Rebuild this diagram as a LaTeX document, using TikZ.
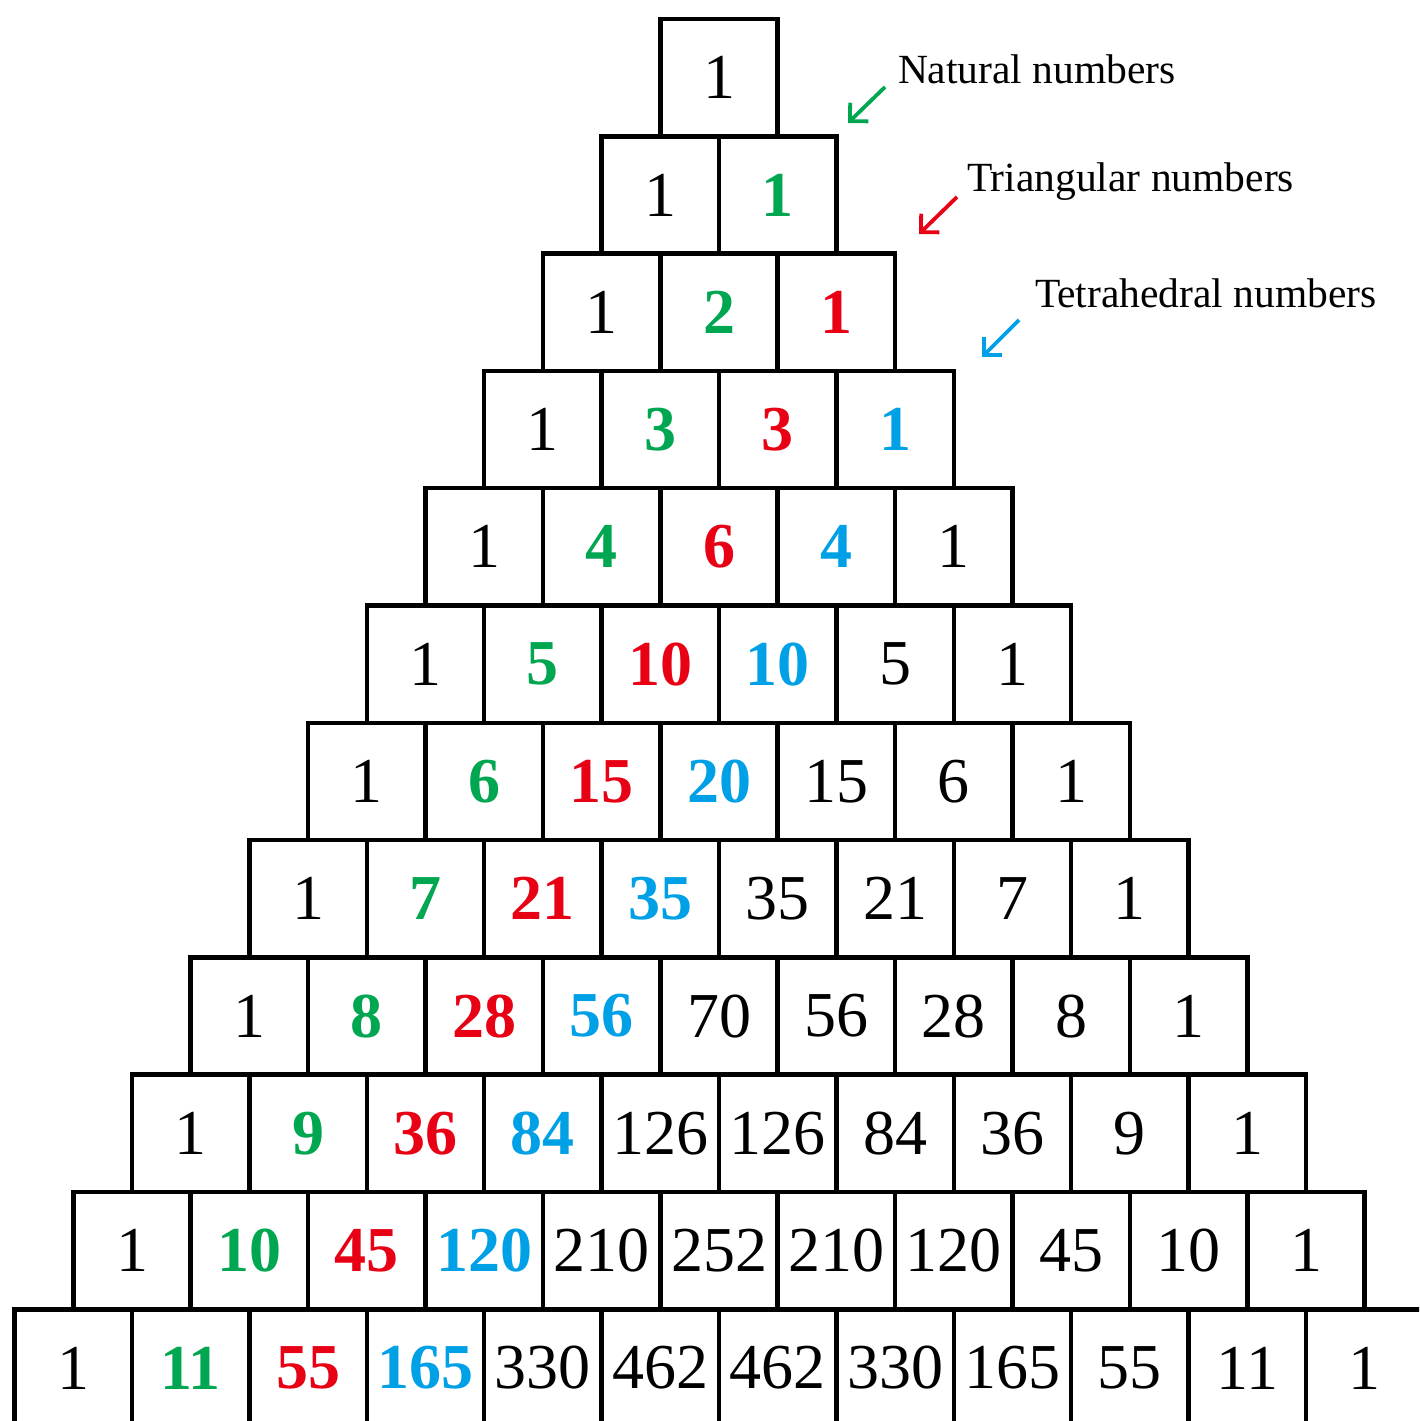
\documentclass[tikz,border=0pt]{standalone}
\usepackage{fontspec}
\setmainfont{Liberation Serif}
\usetikzlibrary{arrows.meta}
\definecolor{natgreen}{RGB}{0,166,80}
\definecolor{trired}{RGB}{232,0,20}
\definecolor{tetblue}{RGB}{0,160,230}
\newcommand\pascalfmt[1]{\ifcase#1\relax\or\bfseries\color{natgreen}\or\bfseries\color{trired}\or\bfseries\color{tetblue}\fi}
\tikzset{
  cellbox/.style={draw=black, line width=4.5pt, rectangle, minimum width=117.4pt, minimum height=117.3pt,
    inner sep=0pt, outer sep=0pt, font=\fontsize{64}{64}\selectfont},
  lbltext/.style={inner sep=0pt, outer sep=0pt, anchor=base west, font=\fontsize{41.5}{41.5}\selectfont},
  pointer/.style={line width=3.8pt, -{Straight Barb[length=13pt,width=26pt,line width=3.8pt]}}
}
\begin{document}
\begin{tikzpicture}[x=1pt,y=-1pt]
\useasboundingbox (0,0) rectangle (1419,1421);
\clip (0,0) rectangle (1419,1421);
\fill[white] (0,0) rectangle (1419,1421);
\foreach \row [count=\n from 0] in {
  {1},
  {1,1},
  {1,2,1},
  {1,3,3,1},
  {1,4,6,4,1},
  {1,5,10,10,5,1},
  {1,6,15,20,15,6,1},
  {1,7,21,35,35,21,7,1},
  {1,8,28,56,70,56,28,8,1},
  {1,9,36,84,126,126,84,36,9,1},
  {1,10,45,120,210,252,210,120,45,10,1},
  {1,11,55,165,330,462,462,330,165,55,11,1}} {
  \foreach \v [count=\k from 0] in \row {
    \node[cellbox] (b-\n-\k) at ({719+(\k-\n/2)*117.4},{19+58.65+\n*117.3}) {\pascalfmt{\k}\v};
  }
}
\node[lbltext] (natlbl) at (898,84) {Natural numbers};
\node[lbltext] (trilbl) at (967,191) {Triangular numbers};
\node[lbltext] (tetlbl) at (1035,307) {Tetrahedral numbers};
\coordinate (natA) at (885,87);
\coordinate (natB) at (848,123);
\coordinate (triA) at (957,197);
\coordinate (triB) at (919,234);
\coordinate (tetA) at (1019,320);
\coordinate (tetB) at (982,357);
\draw[pointer, natgreen] (natA) -- (natB);
\draw[pointer, trired] (triA) -- (triB);
\draw[pointer, tetblue] (tetA) -- (tetB);
\end{tikzpicture}
\end{document}
